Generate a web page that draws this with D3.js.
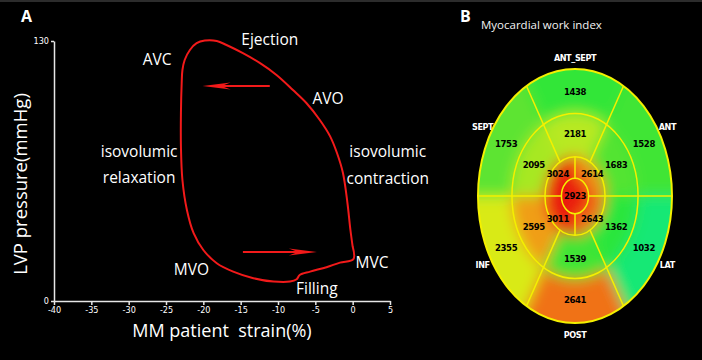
<!DOCTYPE html>
<html>
<head>
<meta charset="utf-8">
<script src="https://cdn.jsdelivr.net/npm/d3@7"></script>
<style>
body{margin:0;background:#000;}
svg{display:block;}
text{font-family:"Open Sans",sans-serif;}
.axis path,.axis line{stroke:#e6e6e6;stroke-width:1.5;}
.axis text{fill:#fff;font-family:"DejaVu Sans Condensed",sans-serif;font-size:9px;}
.num{font-family:"Liberation Sans Narrow","DejaVu Sans Condensed",sans-serif;font-weight:bold;letter-spacing:-0.4px;}
</style>
</head>
<body>
<div class="container"></div>
<script>
const WIDTH = 702;
const HEIGHT = 360;

// panel A: pressure-strain loop
var strainTicks = [-40, -35, -30, -25, -20, -15, -10, -5, 0, 5];
var pressureTicks = [0, 130];
var loopStrain = [0.0, -0.3, -0.7, -1.3, -2.1, -3.0, -4.4, -6.2, -8.0, -10.2,
  -12.4, -14.7, -16.9, -18.2, -19.8, -20.9, -21.8, -22.5, -22.8, -22.9,
  -23.0, -23.0, -22.8, -22.2, -21.3, -20.0, -18.2, -16.0, -13.3, -10.6,
  -8.4, -7.5, -7.1, -5.7, -3.5, -1.7, 0.1, 0.0];
var loopPressure = [27.2, 35.5, 49, 64, 74, 82.2, 90.5, 99, 105.5, 113,
  118.9, 123.9, 128, 130, 130.2, 128.9, 125.5, 120.5, 115.5, 108.9,
  94, 77.2, 60.5, 45.5, 33.9, 25.5, 18.9, 14.7, 11.4, 9.7,
  9.7, 10.9, 13, 14.7, 16.9, 19.2, 20.9, 27.2];
// arrows: [from, to] strain, at a pressure
var arrowStrain = [[-11.1, -20.1], [-14.7, -4.8]];
var arrowPressure = [107.5, 24.5];
var phaseLabels = ["AVC", "Ejection", "AVO", "isovolumic", "contraction", "isovolumic", "relaxation", "MVO", "MVC", "Filling"];
var phaseStrain = [-26.2, -11.1, -3.3, 4.7, 4.7, -28.6, -28.6, -21.6, 2.6, -4.8];
var phasePressure = [118, 128, 98.5, 72, 58.5, 72, 59, 13, 16.5, 3.5];

// panel B: myocardial work index bullseye
var wallNames = ["ANT_SEPT", "ANT", "LAT", "POST", "INF", "SEPT"];
var basalValues = [1438, 1528, 1032, 2641, 2355, 1753];
var midValues = [2181, 1683, 1362, 1539, 2595, 2095];
var apicalValues = [2614, 2643, 3011, 3024];
var apexValue = [2923];

var translate = function(x, y){
  return "translate(" + x + "," + y + ")";
};

var svg = d3.select('.container').append('svg')
  .attr('width', WIDTH)
  .attr('height', HEIGHT)
  .style('background', '#000');

svg.append('rect').attr('width', WIDTH).attr('height', 2).attr('fill', '#2c2c2c');

// ---------- A ----------
var xScale = d3.scaleLinear().domain([-40, 5]).range([54, 390]);
var yScale = d3.scaleLinear().domain([0, 130]).range([301, 41]);

svg.append('text').attr('x', 21).attr('y', 22)
  .attr('fill', '#fff').attr('font-size', 16).attr('font-weight', 'bold').text('A');

svg.append('g').attr('class', 'axis')
  .attr('transform', translate(0, 301))
  .call(d3.axisBottom(xScale).tickValues(strainTicks).tickSize(4).tickSizeOuter(0).tickPadding(2)
    .tickFormat(function(d){ return String(d); }));

svg.append('g').attr('class', 'axis')
  .attr('transform', translate(54, 0))
  .call(d3.axisLeft(yScale).tickValues(pressureTicks).tickSize(3).tickSizeOuter(0).tickPadding(2));

svg.append('text')
  .attr('x', 222).attr('y', 337)
  .attr('text-anchor', 'middle')
  .attr('fill', '#fff').attr('font-size', 18)
  .style('white-space', 'pre')
  .text('MM patient  strain(%)');

svg.append('text')
  .attr('transform', translate(27, 184) + ' rotate(-90)')
  .attr('text-anchor', 'middle')
  .attr('fill', '#fff').attr('font-size', 18.5)
  .text('LVP pressure(mmHg)');

var loopLine = d3.line()
  .x(function(d){ return xScale(d[0]); })
  .y(function(d){ return yScale(d[1]); })
  .curve(d3.curveCatmullRom.alpha(0.5));

svg.append('path')
  .datum(d3.zip(loopStrain, loopPressure))
  .attr('d', loopLine)
  .attr('fill', 'none')
  .attr('stroke', '#f21a1a')
  .attr('stroke-width', 2);

arrowStrain.forEach(function(s, i){
  var x0 = xScale(s[0]), x1 = xScale(s[1]), y = yScale(arrowPressure[i]);
  var dir = x1 > x0 ? 1 : -1;
  svg.append('line')
    .attr('x1', x0).attr('x2', x1 - dir * 14).attr('y1', y).attr('y2', y)
    .attr('stroke', '#f21a1a').attr('stroke-width', 1.8);
  svg.append('path')
    .attr('d', 'M' + x1 + ',' + y +
      'L' + (x1 - dir * 28) + ',' + (y - 3.5) +
      'L' + (x1 - dir * 19) + ',' + y +
      'L' + (x1 - dir * 28) + ',' + (y + 3.5) + 'Z')
    .attr('fill', '#f21a1a');
});

svg.append('g').selectAll('text')
  .data(phaseLabels)
  .enter().append('text')
  .attr('x', function(d, i){ return xScale(phaseStrain[i]); })
  .attr('y', function(d, i){ return yScale(phasePressure[i]); })
  .attr('text-anchor', 'middle')
  .attr('fill', '#fff')
  .attr('font-size', 15.5)
  .text(function(d){ return d; });

// ---------- B ----------
var cx = 575, cy = 196, rx = 97, ry = 127;
var ringR = [0.14, 0.31, 0.65, 1];

svg.append('text').attr('x', 460).attr('y', 22)
  .attr('fill', '#fff').attr('font-size', 16).attr('font-weight', 'bold').text('B');
svg.append('text').attr('x', 481).attr('y', 29)
  .attr('fill', '#f2f2f2').attr('font-size', 11.5)
  .attr('font-family', '"Liberation Sans",sans-serif')
  .text('Myocardial work index');

var workColor = d3.scaleLinear()
  .domain([1000, 1400, 1750, 2100, 2400, 2560, 2660, 2800])
  .range(["#12e87a", "#2ee638", "#5ce432", "#a8e824", "#e2ea16", "#f0c012", "#f06014", "#ea1c0c"])
  .clamp(true);

var deg = Math.PI / 180;
var segments = [];
basalValues.forEach(function(v, i){
  segments.push({v: v, r0: ringR[2], r1: 1.4, a0: (i * 60 - 30) * deg, a1: (i * 60 + 30) * deg, lr: 0.82});
});
midValues.forEach(function(v, i){
  segments.push({v: v, r0: ringR[1], r1: ringR[2], a0: (i * 60 - 30) * deg, a1: (i * 60 + 30) * deg, lr: 0.49});
});
apicalValues.forEach(function(v, i){
  segments.push({v: v, r0: ringR[0], r1: ringR[1], a0: i * 90 * deg, a1: (i + 1) * 90 * deg, lr: 0.25});
});
segments.push({v: apexValue[0], r0: 0, r1: ringR[0], a0: 0, a1: 2 * Math.PI, lr: 0});

var defs = svg.append('defs');
defs.append('clipPath').attr('id', 'eyeClip')
  .append('ellipse').attr('cx', cx).attr('cy', cy).attr('rx', rx).attr('ry', ry);
defs.append('filter').attr('id', 'soft')
  .attr('x', '-20%').attr('y', '-20%').attr('width', '140%').attr('height', '140%')
  .append('feGaussianBlur').attr('stdDeviation', 7);

var arc = d3.arc()
  .innerRadius(function(d){ return d.r0; })
  .outerRadius(function(d){ return d.r1; })
  .startAngle(function(d){ return d.a0; })
  .endAngle(function(d){ return d.a1; });

svg.append('g').attr('clip-path', 'url(#eyeClip)')
  .append('g').attr('filter', 'url(#soft)')
  .append('g').attr('transform', translate(cx, cy) + ' scale(' + rx + ',' + ry + ')')
  .selectAll('path')
  .data(segments)
  .enter().append('path')
  .attr('d', arc)
  .attr('fill', function(d){ return workColor(d.v); })
  .attr('stroke', function(d){ return workColor(d.v); })
  .attr('vector-effect', 'non-scaling-stroke');

var px = function(r, a){ return cx + rx * r * Math.sin(a); };
var py = function(r, a){ return cy - ry * r * Math.cos(a); };

var grid = svg.append('g').attr('stroke', '#f4f000').attr('stroke-width', 1.5).attr('fill', 'none');
grid.selectAll('ellipse')
  .data(ringR)
  .enter().append('ellipse')
  .attr('cx', cx).attr('cy', cy)
  .attr('rx', function(r){ return rx * r; })
  .attr('ry', function(r){ return ry * r; })
  .attr('stroke-width', function(r){ return r === 1 ? 2 : 1.5; });

// spokes: [angle, from, to]
var spokes = [];
[30, 150, 210, 330].forEach(function(a){ spokes.push([a * deg, ringR[1], 1]); });
[90, 270].forEach(function(a){ spokes.push([a * deg, ringR[0], 1]); });
[0, 180].forEach(function(a){ spokes.push([a * deg, ringR[0], ringR[1]]); });
grid.selectAll('line')
  .data(spokes)
  .enter().append('line')
  .attr('x1', function(d){ return px(d[1], d[0]); })
  .attr('y1', function(d){ return py(d[1], d[0]); })
  .attr('x2', function(d){ return px(d[2], d[0]); })
  .attr('y2', function(d){ return py(d[2], d[0]); });

svg.append('g').selectAll('text')
  .data(segments)
  .enter().append('text')
  .attr('class', 'num')
  .attr('x', function(d){ return px(d.lr, (d.a0 + d.a1) / 2); })
  .attr('y', function(d){ return py(d.lr, (d.a0 + d.a1) / 2); })
  .attr('dy', '0.35em')
  .attr('text-anchor', 'middle')
  .attr('font-size', 9.5)
  .attr('fill', '#000')
  .text(function(d){ return d.v; });

svg.append('g').selectAll('text')
  .data(wallNames)
  .enter().append('text')
  .attr('class', 'num')
  .attr('x', function(d, i){ return px(1.1, i * 60 * deg); })
  .attr('y', function(d, i){ return py(1.09, i * 60 * deg); })
  .attr('dy', '0.35em')
  .attr('text-anchor', 'middle')
  .attr('font-size', 9)
  .attr('fill', '#fff')
  .text(function(d){ return d; });
</script>
</body>
</html>
